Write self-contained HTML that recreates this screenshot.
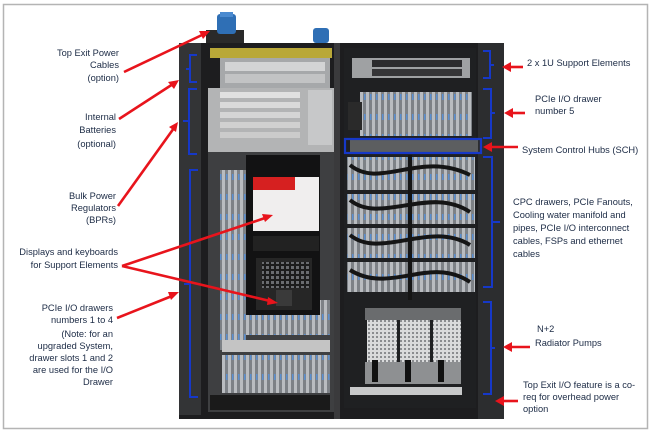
<!DOCTYPE html>
<html><head><meta charset="utf-8"><style>
html,body{margin:0;padding:0;background:#fff;}
svg{display:block}
text{font-family:"Liberation Sans",sans-serif;font-size:9.3px;fill:#1c2b45;}
</style></head><body>
<svg width="652" height="431" viewBox="0 0 652 431" xmlns="http://www.w3.org/2000/svg">
<defs>
<pattern id="cards" width="6" height="20" patternUnits="userSpaceOnUse">
<rect width="6" height="20" fill="#7d8186"/><rect x="0" width="3" height="20" fill="#b9bcc0"/><rect x="4" y="14" width="1.5" height="6" fill="#5b8fd0"/>
</pattern>
<pattern id="grid" width="4" height="4" patternUnits="userSpaceOnUse">
<rect width="4" height="4" fill="#d9dadb"/><rect width="2" height="2" fill="#8a8c8f"/>
</pattern>
<pattern id="kb" width="5" height="5" patternUnits="userSpaceOnUse">
<rect width="5" height="5" fill="#1c1c1c"/><rect x="1" y="1" width="3" height="3" fill="#6a6c70"/>
</pattern>
</defs>
<rect x="3.5" y="4.5" width="644" height="424" fill="#fff" stroke="#b4b4b4" stroke-width="1.5"/>

<rect x="206" y="30" width="38" height="15" fill="#2a2a2a"/>
<rect x="217" y="14" width="19" height="20" rx="3" fill="#2f6fb5"/>
<rect x="220" y="12" width="13" height="5" fill="#4a8ad0"/>
<rect x="313" y="28" width="16" height="15" rx="3" fill="#2f6fb5"/>

<rect x="179" y="43" width="325" height="376" fill="#1d1d1f"/>
<rect x="179" y="43" width="22" height="372" fill="#333436"/>
<rect x="478" y="43" width="26" height="376" fill="#2c2d2f"/>
<rect x="334" y="43" width="6" height="376" fill="#3a3a3c"/>

<rect x="210" y="48" width="122" height="10" fill="#b9a838"/>
<rect x="220" y="58" width="110" height="30" fill="#a6a8aa"/>
<rect x="225" y="62" width="100" height="9" fill="#d3d4d5"/>
<rect x="225" y="74" width="100" height="9" fill="#c2c3c4"/>
<rect x="208" y="88" width="126" height="64" fill="#b3b4b5"/>
<rect x="220" y="92" width="80" height="6" fill="#e0e0e0"/>
<rect x="220" y="102" width="80" height="6" fill="#dadada"/>
<rect x="220" y="112" width="80" height="6" fill="#d5d5d5"/>
<rect x="220" y="122" width="80" height="6" fill="#d0d0d0"/>
<rect x="220" y="132" width="80" height="6" fill="#cbcbcb"/>
<rect x="308" y="90" width="24" height="55" fill="#c7c8c9"/>
<rect x="208" y="152" width="126" height="260" fill="#3e3f41"/>
<rect x="220" y="170" width="26" height="180" fill="url(#cards)"/>
<rect x="222" y="300" width="108" height="35" fill="url(#cards)"/>
<rect x="222" y="340" width="108" height="12" fill="#c4c4c4"/>
<rect x="222" y="355" width="108" height="38" fill="url(#cards)"/>
<rect x="210" y="395" width="120" height="15" fill="#1a1a1a"/>
<rect x="246" y="155" width="74" height="160" fill="#121213"/>
<rect x="253" y="177" width="66" height="54" fill="#f0eeee"/>
<rect x="253" y="177" width="42" height="13" fill="#d62020"/>
<rect x="253" y="236" width="66" height="15" fill="#222"/>
<rect x="256" y="258" width="56" height="52" fill="#262626"/>
<rect x="262" y="262" width="48" height="26" fill="url(#kb)"/>
<rect x="276" y="290" width="16" height="16" fill="#3a3a3a"/>

<rect x="344" y="48" width="132" height="360" fill="#1f2022"/>
<rect x="352" y="58" width="118" height="20" fill="#9fa1a3"/>
<rect x="372" y="60" width="90" height="7" fill="#2c2c2e"/>
<rect x="372" y="69" width="90" height="7" fill="#353537"/>
<rect x="360" y="92" width="112" height="44" fill="url(#cards)"/>
<rect x="348" y="102" width="14" height="28" fill="#2a2a2a"/>
<rect x="350" y="140" width="128" height="12" fill="#5c5e60"/>
<rect x="347" y="157" width="128" height="33" fill="url(#cards)"/>
<rect x="347" y="194" width="128" height="30" fill="url(#cards)"/>
<rect x="347" y="228" width="128" height="30" fill="url(#cards)"/>
<rect x="347" y="262" width="128" height="30" fill="url(#cards)"/>
<g stroke="#151515" stroke-width="4" fill="none">
<path d="M350 165 C380 190 420 150 470 175"/>
<path d="M350 200 C380 225 430 185 470 212"/>
<path d="M350 235 C380 260 430 220 470 245"/>
<path d="M350 270 C390 295 430 255 470 282"/>
<path d="M410 155 L410 300"/>
</g>
<rect x="365" y="308" width="96" height="12" fill="#6a6c6e"/>
<rect x="367" y="320" width="30" height="42" fill="url(#grid)"/>
<rect x="400" y="320" width="30" height="42" fill="url(#grid)"/>
<rect x="433" y="320" width="28" height="42" fill="url(#grid)"/>
<rect x="365" y="362" width="96" height="22" fill="#8e9092"/>
<rect x="372" y="360" width="6" height="22" fill="#111"/>
<rect x="405" y="360" width="6" height="22" fill="#111"/>
<rect x="438" y="360" width="6" height="22" fill="#111"/>
<rect x="350" y="387" width="112" height="8" fill="#c8c9ca"/>

<g stroke="#1638c8" stroke-width="2" fill="none">
<path d="M197 55 H190 V82 H197 M190 69 H186"/>
<path d="M197 89 H189 V154 H197 M189 121 H183"/>
<path d="M198 170 H190 V397 H198 M190 284 H184"/>
<path d="M483 51 H490 V78 H483 M490 65 H494"/>
<path d="M483 89 H491 V138 H483 M491 113 H495"/>
<path d="M483 157 H492 V287 H483 M492 222 H500"/>
<path d="M483 302 H491 V394 H483 M491 348 H495"/>
<rect x="345" y="139" width="136" height="14" stroke-width="2.2"/>
</g>

<g stroke="#e8141c" stroke-width="2.6" fill="#e8141c">
<line x1="124" y1="72" x2="202" y2="35"/><polygon points="210,31 199,31 203,39" stroke="none"/>
<line x1="119" y1="119" x2="173" y2="84"/><polygon points="179,80 168,82 174,89" stroke="none"/>
<line x1="118" y1="206" x2="174" y2="128"/><polygon points="178,122 169,127 176,132" stroke="none"/>
<line x1="122" y1="266" x2="265" y2="218"/><polygon points="273,215 262,214 265,222" stroke="none"/>
<line x1="122" y1="266" x2="270" y2="301"/><polygon points="278,303 268,297 267,305" stroke="none"/>
<line x1="117" y1="318" x2="172" y2="296"/><polygon points="179,292 168,292 171,300" stroke="none"/>
<line x1="523" y1="67" x2="510" y2="67"/><polygon points="502,67 511,62 511,72" stroke="none"/>
<line x1="525" y1="113" x2="512" y2="113"/><polygon points="504,113 513,108 513,118" stroke="none"/>
<line x1="518" y1="147" x2="492" y2="147"/><polygon points="483,147 492,142 492,152" stroke="none"/>
<line x1="530" y1="347" x2="512" y2="347"/><polygon points="503,347 512,342 512,352" stroke="none"/>
<line x1="518" y1="401" x2="504" y2="401"/><polygon points="495,401 504,396 504,406" stroke="none"/>
</g>

<g text-anchor="end">
<text x="119" y="56">Top Exit Power</text>
<text x="119" y="68">Cables</text>
<text x="119" y="81">(option)</text>
<text x="116" y="120">Internal</text>
<text x="116" y="133">Batteries</text>
<text x="116" y="147">(optional)</text>
<text x="116" y="199">Bulk Power</text>
<text x="116" y="211">Regulators</text>
<text x="116" y="223">(BPRs)</text>
<text x="118" y="255">Displays and keyboards</text>
<text x="118" y="268">for Support Elements</text>
<text x="113" y="311">PCIe I/O drawers</text>
<text x="113" y="323">numbers 1 to 4</text>
<text x="113" y="337">(Note: for an</text>
<text x="113" y="349">upgraded System,</text>
<text x="113" y="361">drawer slots 1 and 2</text>
<text x="113" y="373">are used for the I/O</text>
<text x="113" y="385">Drawer</text>
</g>
<text x="527" y="66">2 x 1U Support Elements</text>
<text x="535" y="102">PCIe I/O drawer</text>
<text x="535" y="114">number 5</text>
<text x="522" y="153">System Control Hubs (SCH)</text>
<text x="513" y="205">CPC drawers, PCIe Fanouts,</text>
<text x="513" y="218">Cooling water manifold and</text>
<text x="513" y="231">pipes, PCIe I/O interconnect</text>
<text x="513" y="244">cables, FSPs and ethernet</text>
<text x="513" y="257">cables</text>
<text x="537" y="332">N+2</text>
<text x="535" y="346">Radiator Pumps</text>
<text x="523" y="388">Top Exit I/O feature is a co-</text>
<text x="523" y="400">req for overhead power</text>
<text x="523" y="412">option</text>
</svg>
</body></html>
